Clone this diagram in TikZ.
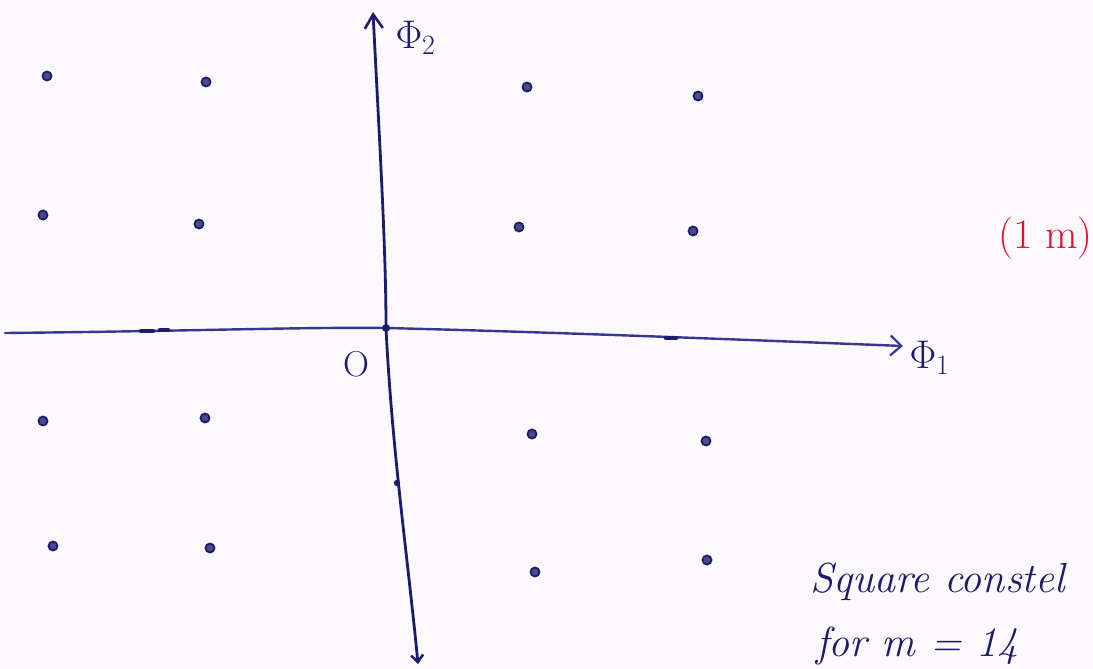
\RequirePackage{fix-cm}
\documentclass[tikz,border=0pt]{standalone}
\usetikzlibrary{arrows.meta}
\definecolor{paper}{RGB}{252,248,252}
\definecolor{ink}{RGB}{28,28,110}
\definecolor{axisink}{RGB}{55,55,145}
\definecolor{redink}{RGB}{226,20,50}
\begin{document}
\begin{tikzpicture}[x=1pt,y=-1pt,
  pt/.style={circle,draw=ink,fill=ink!80,line width=1.8pt,inner sep=0pt,minimum size=9pt},
  axisline/.style={line width=2.4pt,line cap=round},
  hand/.style={text=ink,font=\fontsize{42}{46}\selectfont\itshape,inner sep=0pt,anchor=base west},
  tick/.style={ink,line width=4.5pt,line cap=round}]
\fill[paper] (0,0) rectangle (1093,669);
\useasboundingbox (0,0) rectangle (1093,669);
% coordinates of axes
\coordinate (xl) at (5,333);
\coordinate (xr) at (903,346);
\coordinate (yt) at (373,12);
\coordinate (yb) at (418,664);
\coordinate (o) at (386,328);
% horizontal axis
\draw[axisline,axisink,-{Straight Barb[length=11pt,width=20pt,line width=2.2pt]}]
  (xl) .. controls (200,331) and (300,327) .. (o)
  .. controls (550,332) and (750,340) .. (xr);
% vertical axis
\draw[axisline,ink,line width=2.8pt,{Straight Barb[length=14pt,width=18pt,line width=2.6pt]}-{Straight Barb[length=7pt,width=12pt,line width=2.6pt]}]
  (yt) .. controls (380,150) and (386,250) .. (o)
  .. controls (392,450) and (408,560) .. (yb);
\fill[ink] (397,483) circle (3.2pt);
% ticks
\draw[tick] (141,331) -- (153,331);
\draw[tick] (160,330) -- (168,330);
\draw[tick] (666,338) -- (676,338);
\fill[ink] (386,328) circle (4pt);
% labels
\node[text=ink,font=\fontsize{40}{42}\selectfont,anchor=west] (phi2) at (392,38) {$\Phi_2$};
\node[text=ink,font=\fontsize{40}{42}\selectfont,anchor=west] (phi1) at (906,358) {$\Phi_{1}$};
\node[text=ink,font=\fontsize{36}{38}\selectfont] (O) at (356,364) {O};
\node[text=redink,font=\fontsize{42}{44}\selectfont,anchor=west,inner sep=0pt] (onem) at (998,238) {(1 m)};
\node[hand] (sq) at (810,592) {Square constel};
\node[hand] (form) at (816,656) {for m = 14};
% constellation points
\node[pt] (p11) at (47,76) {};
\node[pt] (p12) at (206,82) {};
\node[pt] (p13) at (527,87) {};
\node[pt] (p14) at (698,96) {};
\node[pt] (p21) at (43,215) {};
\node[pt] (p22) at (199,224) {};
\node[pt] (p23) at (519,227) {};
\node[pt] (p24) at (693,231) {};
\node[pt] (p31) at (43,421) {};
\node[pt] (p32) at (205,418) {};
\node[pt] (p33) at (532,434) {};
\node[pt] (p34) at (706,441) {};
\node[pt] (p41) at (53,546) {};
\node[pt] (p42) at (210,548) {};
\node[pt] (p43) at (535,572) {};
\node[pt] (p44) at (707,560) {};
\end{tikzpicture}
\end{document}
